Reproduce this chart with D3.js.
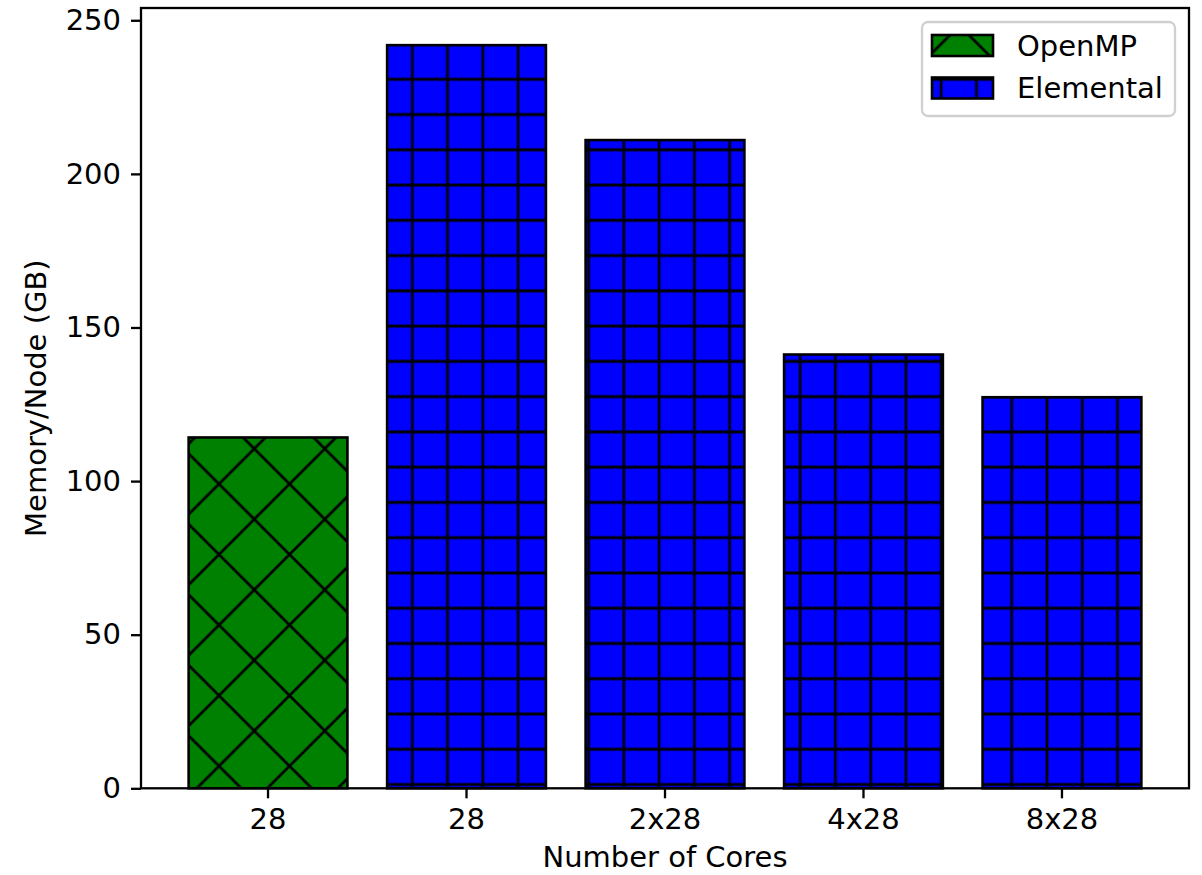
<!DOCTYPE html>
<html>
<head>
<meta charset="utf-8">
<script src="https://cdn.jsdelivr.net/npm/d3@7"></script>
<style>
  body { margin: 0; background: #fff; }
  svg { display: block; font-family: "DejaVu Sans", sans-serif; }
</style>
</head>
<body>
<div id="chart"></div>
<script>
// data
const categories = ['28', '28', '2x28', '4x28', '8x28'];
const series = ['OpenMP', 'Elemental', 'Elemental', 'Elemental', 'Elemental'];
const memory = [114.2, 241.9, 211.0, 141.2, 127.3];
const yTicks = [0, 50, 100, 150, 200, 250];
const legendNames = ['OpenMP', 'Elemental'];

const W = 1202, H = 875;
const margin = { top: 8, right: 13, bottom: 86.7, left: 141 };
const fontPx = 29;

const svg = d3.select('#chart')
  .append('svg')
  .attr('width', W)
  .attr('height', H);

// hatch patterns live in page space so they line up across bars and legend
const defs = svg.append('defs');
const P = 35.26;

const grid = defs.append('pattern')
  .attr('id', 'hatchGrid')
  .attr('patternUnits', 'userSpaceOnUse')
  .attr('x', 24.44 - P / 2)
  .attr('y', 8.78 - P / 2)
  .attr('width', P)
  .attr('height', P);
grid.append('rect').attr('width', P).attr('height', P).attr('fill', '#0000ff');
grid.append('path')
  .attr('d', `M${P / 2},-1V${P + 1}M-1,${P / 2}H${P + 1}`)
  .attr('stroke', '#000').attr('stroke-width', 2.7);

const Q = 2 * P;
const cross = defs.append('pattern')
  .attr('id', 'hatchCross')
  .attr('patternUnits', 'userSpaceOnUse')
  .attr('x', 42.7)
  .attr('y', 25.6)
  .attr('width', Q)
  .attr('height', Q);
cross.append('rect').attr('width', Q).attr('height', Q).attr('fill', '#008000');
cross.append('path')
  .attr('d', `M${-Q},${-Q}L${2 * Q},${2 * Q}M0,${-Q}L${2 * Q},${Q}M${-Q},0L${Q},${2 * Q}` +
             `M${-Q},${2 * Q}L${2 * Q},${-Q}M${-Q},${Q}L${Q},${-Q}M0,${2 * Q}L${2 * Q},0`)
  .attr('stroke', '#000').attr('stroke-width', 2.7);

const fillFor = s => s === 'OpenMP' ? 'url(#hatchCross)' : 'url(#hatchGrid)';

const x = d3.scaleBand()
  .domain(d3.range(categories.length))
  .range([margin.left, W - margin.right])
  .paddingInner(0.2)
  .paddingOuter(0.24);

const y = d3.scaleLinear()
  .domain([0, d3.max(memory) * 1.05])
  .range([H - margin.bottom, margin.top]);

// bars
svg.selectAll('.bar')
  .data(memory)
  .enter()
  .append('rect')
  .attr('class', 'bar')
  .attr('x', (d, i) => x(i))
  .attr('width', x.bandwidth())
  .attr('y', d => y(d))
  .attr('height', d => y(0) - y(d))
  .attr('fill', (d, i) => fillFor(series[i]))
  .attr('stroke', '#000')
  .attr('stroke-width', 2.6);

// axes
const xAxis = svg.append('g')
  .attr('transform', 'translate(0,' + (H - margin.bottom) + ')')
  .call(d3.axisBottom(x).tickSize(10).tickPadding(10).tickFormat(i => categories[i]));

const yAxis = svg.append('g')
  .attr('transform', 'translate(' + margin.left + ',0)')
  .call(d3.axisLeft(y).tickValues(yTicks).tickSize(10).tickPadding(10));

[xAxis, yAxis].forEach(a => {
  a.select('.domain').remove();
  a.selectAll('.tick line').attr('stroke', '#000').attr('stroke-width', 2.3);
  a.selectAll('.tick text').attr('fill', '#000').style('font-size', fontPx + 'px')
    .style('font-family', '"DejaVu Sans", sans-serif');
});

// frame
svg.append('rect')
  .attr('x', margin.left)
  .attr('y', margin.top)
  .attr('width', W - margin.left - margin.right)
  .attr('height', H - margin.top - margin.bottom)
  .attr('fill', 'none')
  .attr('stroke', '#000')
  .attr('stroke-width', 2.3);

// axis labels
svg.append('text')
  .attr('x', (margin.left + W - margin.right) / 2)
  .attr('y', 867)
  .attr('text-anchor', 'middle')
  .style('font-size', fontPx + 'px')
  .text('Number of Cores');

svg.append('text')
  .attr('transform', 'translate(46,' + (margin.top + H - margin.bottom) / 2 + ') rotate(-90)')
  .attr('text-anchor', 'middle')
  .style('font-size', fontPx + 'px')
  .text('Memory/Node (GB)');

// legend
const lg = svg.append('g');
lg.append('rect')
  .attr('x', 922).attr('y', 22)
  .attr('width', 253).attr('height', 94)
  .attr('rx', 6)
  .attr('fill', '#fff').attr('fill-opacity', 0.8)
  .attr('stroke', '#d0d0d0').attr('stroke-width', 2.3);

legendNames.forEach((name, i) => {
  const cy = 45.5 + i * 42.5;
  lg.append('rect')
    .attr('x', 932).attr('y', cy - 10.5)
    .attr('width', 61).attr('height', 21)
    .attr('fill', fillFor(name))
    .attr('stroke', '#000').attr('stroke-width', 2.6);
  lg.append('text')
    .attr('x', 1017).attr('y', cy)
    .attr('dy', '0.36em')
    .style('font-size', fontPx + 'px')
    .text(name);
});
</script>
</body>
</html>
